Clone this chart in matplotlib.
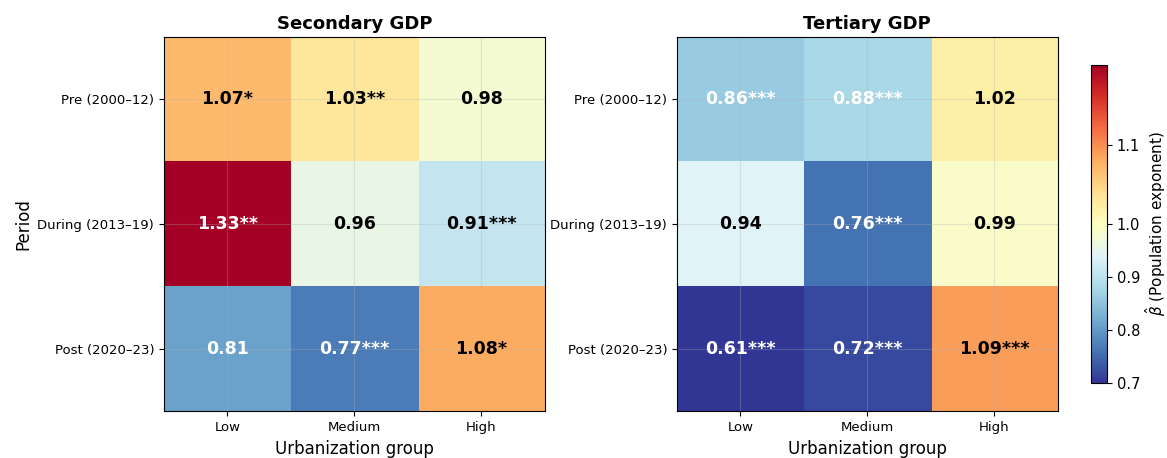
import matplotlib
matplotlib.use("Agg")
import matplotlib.pyplot as plt
import numpy as np
from matplotlib.colors import TwoSlopeNorm

periods = ["Pre (2000\u201312)", "During (2013\u201319)", "Post (2020\u201323)"]
groups = ["Low", "Medium", "High"]

secondary_beta = [[1.07, 1.03, 0.98],
                  [1.33, 0.96, 0.91],
                  [0.81, 0.77, 1.08]]
secondary_stars = [["*", "**", ""],
                   ["**", "", "***"],
                   ["", "***", "*"]]

tertiary_beta = [[0.86, 0.88, 1.02],
                 [0.94, 0.76, 0.99],
                 [0.61, 0.72, 1.09]]
tertiary_stars = [["***", "***", ""],
                  ["", "***", ""],
                  ["***", "***", "***"]]

panels = [("Secondary GDP", secondary_beta, secondary_stars),
          ("Tertiary GDP", tertiary_beta, tertiary_stars)]

plt.rcParams["axes.grid"] = True
plt.rcParams["grid.alpha"] = 0.3
plt.rcParams["grid.color"] = "#b0b0b0"

# diverging around beta = 1 (linear scaling)
norm = TwoSlopeNorm(vmin=0.7, vcenter=1.0, vmax=1.2)
cmap = "RdYlBu_r"

fig = plt.figure(figsize=(11.67, 4.58), dpi=100)
ax_pos = [[0.1405, 0.102, 0.3265, 0.817], [0.580, 0.102, 0.3265, 0.817]]

for i, (title, beta, stars) in enumerate(panels):
    ax = fig.add_axes(ax_pos[i])
    vals = np.array(beta)
    im = ax.imshow(vals, cmap=cmap, norm=norm, aspect="auto")
    ax.set_xticks(range(len(groups)))
    ax.set_xticklabels(groups, fontsize=9.5)
    ax.set_yticks(range(len(periods)))
    ax.set_yticklabels(periods, fontsize=9.5)
    ax.set_xlabel("Urbanization group", fontsize=12)
    if i == 0:
        ax.set_ylabel("Period", fontsize=12)
    ax.set_title(title, fontsize=13, fontweight="bold")
    for r in range(vals.shape[0]):
        for c in range(vals.shape[1]):
            v = vals[r, c]
            color = "white" if (v < 0.9 or v > 1.2) else "black"
            ax.text(c, r, f"{v:.2f}{stars[r][c]}", ha="center", va="center",
                    fontsize=12.5, fontweight="bold", color=color)

cax = fig.add_axes([0.935, 0.1638, 0.0137, 0.694])
cb = fig.colorbar(im, cax=cax)
cb.set_ticks([0.7, 0.8, 0.9, 1.0, 1.1])
cb.ax.tick_params(labelsize=10.5)
cb.set_label(r"$\hat{\beta}$ (Population exponent)", fontsize=11, labelpad=2)
cax.grid(False)

fig.savefig("out.png", dpi=100)
